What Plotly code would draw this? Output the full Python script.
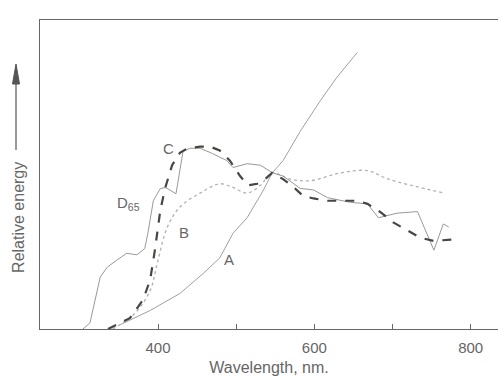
import plotly.graph_objects as go

# Illuminant C (thick dashed)
c_wl = [336, 364, 381, 390, 396, 403, 409, 418, 428, 438, 454, 467, 479, 492, 505, 515, 527, 537, 546, 560,
        573, 586, 599, 617, 633, 655, 668, 685, 701, 719, 736, 753, 765, 778]
c_val = [0, 7, 19, 32, 51, 77, 91, 106, 114, 117, 118, 118, 115.5, 109, 99, 93, 94, 97, 101, 97,
         92, 86, 84.5, 83, 83, 83, 81, 75.5, 69, 64, 59, 57, 57.5, 58]

# Illuminant D65 (thin line)
d_wl = [304, 313, 326, 335, 347, 360, 373, 383, 387, 394, 403, 410, 423, 432, 441, 454, 470, 488, 496, 514,
        531, 547, 560, 582, 599, 617, 646, 668, 682, 706, 732, 753, 765, 772]
d_val = [0, 4, 33.5, 40, 44.5, 49, 48, 52, 62, 83, 91, 91.5, 87.5, 115, 117, 117, 113.5, 109, 104.5, 107,
         106, 101, 99, 91, 90, 85, 82, 81, 72, 75, 76, 51, 68, 66]

# Illuminant B (dotted)
b_wl = [342, 370, 390, 399, 412, 428, 454, 479, 496, 514, 531, 546, 569, 595, 633, 668, 695, 766]
b_val = [0, 10, 25, 42.5, 66, 79, 88, 94, 91.6, 88, 93, 101, 97, 96, 101, 102.5, 97, 88]

# Illuminant A (thin line, rising)
a_wl = [351, 390, 428, 458, 479, 496, 514, 535, 546, 560, 582, 608, 629, 655]
a_val = [2.6, 12, 23, 36, 46, 62, 72, 90, 101, 109, 128, 148, 163, 179]

labels = ["C", "D<sub>65</sub>", "B", "A"]
label_wl = [413, 362, 433, 491]
label_val = [117, 81, 62.6, 45]

tick_vals = [400, 600, 800]
tick_text = ["400", "600", "800"]

FONT = "Liberation Sans, Arial"

fig = go.Figure()
fig.add_trace(go.Scatter(x=a_wl, y=a_val, mode="lines",
                         line=dict(color="#a0a0a0", width=1), hoverinfo="skip"))
fig.add_trace(go.Scatter(x=b_wl, y=b_val, mode="lines", line_shape="spline",
                         line=dict(color="#b0b0b0", width=1.3, dash="dot"), hoverinfo="skip"))
fig.add_trace(go.Scatter(x=d_wl, y=d_val, mode="lines",
                         line=dict(color="#999999", width=1), hoverinfo="skip"))
fig.add_trace(go.Scatter(x=c_wl, y=c_val, mode="lines",
                         line=dict(color="#4a4540", width=2.2, dash="dash"), hoverinfo="skip"))

for t, x, y in zip(labels, label_wl, label_val):
    fig.add_annotation(x=x, y=y, text=t, showarrow=False,
                       font=dict(family=FONT, size=15, color="#666"))

# y-axis title
fig.add_annotation(xref="paper", yref="paper", x=-0.0455, y=0.36, xanchor="center", yanchor="middle",
                   text="Relative energy", textangle=-90, showarrow=False,
                   font=dict(family=FONT, size=16, color="#666"))

# arrow next to y title (paper coords)
def px(x):
    return (x - 40) / 458

def py(y):
    return (329 - y) / 309

fig.add_shape(type="line", xref="paper", yref="paper",
              x0=px(16), x1=px(16), y0=py(150), y1=py(78),
              line=dict(color="#555", width=1.2))
fig.add_shape(type="path", xref="paper", yref="paper",
              path=f"M {px(16)} {py(64)} L {px(12.5)} {py(84)} L {px(19.5)} {py(84)} Z",
              fillcolor="#555", line=dict(color="#555", width=1))

fig.update_layout(
    width=500, height=376,
    margin=dict(l=40, r=2, t=20, b=47, autoexpand=False),
    paper_bgcolor="white", plot_bgcolor="white",
    showlegend=False,
    font=dict(family=FONT, size=15, color="#666"),
    xaxis=dict(range=[249, 835], tickvals=tick_vals, ticktext=tick_text,
               ticks="inside", ticklen=5, tickcolor="#666", ticklabelstandoff=5,
               tickfont=dict(size=15, color="#666"),
               minor=dict(tickvals=[500, 700], ticks="inside", ticklen=5, tickcolor="#666"),
               showline=True, linecolor="#666", linewidth=1.3, mirror=True,
               showgrid=False, zeroline=False,
               title=dict(text="Wavelength, nm.", standoff=10,
                          font=dict(size=16, color="#666"))),
    yaxis=dict(range=[0, 200], showticklabels=False, ticks="",
               showline=True, linecolor="#666", linewidth=1.3,
               showgrid=False, zeroline=False),
)

fig.write_html("out.html", config={"displayModeBar": False},
               post_script="document.body.style.margin='0';")
